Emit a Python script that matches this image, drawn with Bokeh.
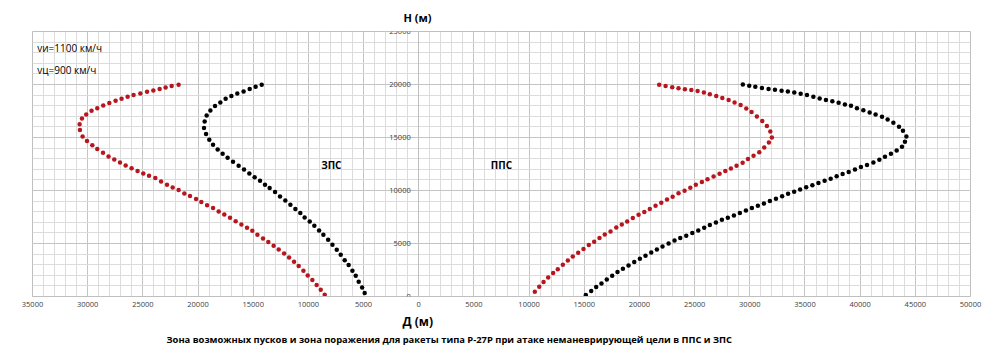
from bokeh.plotting import figure
from bokeh.models import SingleIntervalTicker, CustomJSTickFormatter, Label, Range1d, Title
from bokeh.embed import file_html
from bokeh.resources import INLINE

# ---- data (metres) ----
# ЗПС (rear hemisphere) - plotted to the left, distances stored positive
zps_red_d = [
    8520, 8880, 9250, 9640, 10060, 10450, 10880, 11300, 11750, 12200,
    12690, 13150, 13630, 14110, 14620, 15080, 15560, 16070, 16590, 17100,
    17620, 18130, 18640, 19180, 19700, 20180, 20730, 21240, 21760, 22300,
    22810, 23350, 23870, 24440, 24960, 25480, 26020, 26560, 27070, 27590,
    28110, 28610, 29130, 29580, 30060, 30460, 30700, 30730, 30520, 30130,
    29650, 29130, 28590, 28040, 27470, 26930, 26380, 25840, 25230, 24620,
    24050, 23480, 22940, 22390, 21760]
zps_red_h = [
    160, 630, 1080, 1550, 1980, 2420, 2870, 3270, 3680, 4060,
    4430, 4780, 5130, 5470, 5820, 6200, 6480, 6790, 7110, 7420,
    7740, 8020, 8340, 8620, 8910, 9190, 9470, 9720, 10040, 10280,
    10540, 10850, 11170, 11390, 11600, 11830, 12110, 12360, 12640, 12920,
    13210, 13560, 13910, 14280, 14660, 15090, 15700, 16260, 16790, 17170,
    17520, 17770, 18020, 18250, 18460, 18650, 18840, 19000, 19150, 19310,
    19430, 19570, 19720, 19850, 19970]

zps_black_d = [
    4900, 5130, 5440, 5710, 6010, 6350, 6710, 7070, 7430, 7820,
    8210, 8640, 9030, 9460, 9880, 10340, 10730, 11180, 11630, 12090,
    12570, 13020, 13510, 13930, 14380, 14870, 15350, 15830, 16320, 16830,
    17320, 17770, 18220, 18640, 18980, 19270, 19460, 19400, 19220, 18880,
    18460, 17980, 17500, 16980, 16440, 15870, 15320, 14780, 14230]
zps_black_h = [
    320, 850, 1390, 1950, 2420, 2960, 3430, 3930, 4410, 4880,
    5350, 5820, 6230, 6670, 7080, 7450, 7870, 8250, 8650, 9060,
    9430, 9850, 10230, 10540, 10920, 11260, 11600, 11980, 12330, 12710,
    13080, 13460, 13870, 14310, 14780, 15320, 15890, 16510, 17080, 17550,
    17960, 18300, 18650, 18910, 19150, 19340, 19570, 19780, 19970]

# ППС (front hemisphere) - plotted to the right
pps_red_d = [
    10520, 10920, 11310, 11730, 12180, 12600, 13060, 13510, 13960, 14450,
    14930, 15410, 15900, 16380, 16860, 17380, 17900, 18400, 18890, 19400,
    19920, 20440, 20940, 21460, 21980, 22500, 23010, 23540, 24090, 24610,
    25110, 25660, 26170, 26720, 27260, 27780, 28290, 28800, 29350, 29830,
    30340, 30860, 31310, 31730, 32000, 31860, 31550, 31130, 30640, 30160,
    29680, 29170, 28620, 28080, 27510, 26960, 26380, 25840, 25270, 24700,
    24120, 23540, 22970, 22370, 21790]
pps_red_h = [
    440, 910, 1360, 1790, 2210, 2580, 2990, 3400, 3770, 4120,
    4470, 4850, 5160, 5510, 5850, 6130, 6510, 6790, 7080, 7400,
    7710, 7960, 8250, 8560, 8840, 9160, 9420, 9730, 9970, 10250,
    10540, 10810, 11060, 11330, 11590, 11830, 12080, 12330, 12610, 12960,
    13270, 13620, 14060, 14530, 15000, 15570, 16080, 16550, 16980, 17400,
    17740, 18060, 18300, 18530, 18720, 18910, 19090, 19250, 19380, 19470,
    19550, 19640, 19740, 19850, 19970]

pps_black_d = [
    15140, 15630, 16080, 16560, 17040, 17530, 18010, 18500, 19010, 19530,
    20040, 20550, 21070, 21580, 22090, 22640, 23180, 23700, 24240, 24790,
    25330, 25870, 26380, 26930, 27470, 28010, 28560, 29100, 29650, 30190,
    30730, 31280, 31820, 32370, 32930, 33470, 34020, 34560, 35110, 35670,
    36220, 36780, 37330, 37870, 38410, 38960, 39530, 40070, 40620, 41200,
    41740, 42250, 42790, 43310, 43790, 44060, 44190, 43880, 43520, 43010,
    42490, 41980, 41400, 40860, 40290, 39710, 39170, 38620, 38050, 37480,
    36900, 36330, 35760, 35180, 34610, 34030, 33450, 32880, 32280, 31700,
    31100, 30500, 29950, 29370]
pps_black_h = [
    130, 510, 890, 1230, 1600, 1950, 2300, 2610, 2920, 3250,
    3560, 3840, 4150, 4430, 4720, 5000, 5280, 5510, 5730, 5980,
    6230, 6480, 6740, 6980, 7240, 7430, 7640, 7870, 8110, 8340,
    8560, 8770, 9000, 9220, 9460, 9690, 9890, 10090, 10310, 10490,
    10710, 10920, 11120, 11340, 11560, 11750, 11980, 12210, 12400, 12640,
    12900, 13180, 13460, 13770, 14120, 14590, 15090, 15630, 16010, 16390,
    16700, 16950, 17170, 17360, 17580, 17770, 17990, 18110, 18270, 18430,
    18530, 18680, 18840, 19000, 19120, 19250, 19330, 19410, 19500, 19570,
    19660, 19780, 19880, 20000]

x_ticks_interval = 5000
y_ticks_interval = 5000

title_text = "Зона возможных пусков и зона поражения для ракеты типа Р-27Р при атаке неманеврирующей цели в ППС и ЗПС"
x_title = "Д (м)"
y_title = "Н (м)"
note1 = "vи=1100 км/ч"
note2 = "vц=900 км/ч"

FONT = "Open Sans"
RED = "#b8161e"
BLACK = "#000000"

p = figure(width=984, height=349,
           x_range=Range1d(-35000, 50000), y_range=Range1d(0, 25000),
           output_backend="svg", toolbar_location=None,
           min_border_left=32, min_border_right=14,
           min_border_top=31, min_border_bottom=53)
p.outline_line_color = "#bfbfbf"
p.background_fill_color = "white"

xt = SingleIntervalTicker(interval=x_ticks_interval, num_minor_ticks=5)
yt = SingleIntervalTicker(interval=y_ticks_interval, num_minor_ticks=5)
p.xaxis.ticker = xt
p.yaxis.ticker = yt
p.xgrid.ticker = xt
p.ygrid.ticker = yt
p.grid.grid_line_color = "#c4c4c4"
p.grid.minor_grid_line_color = "#dcdcdc"

p.xaxis.formatter = CustomJSTickFormatter(code="return Math.abs(tick).toString();")
p.yaxis.fixed_location = 0

for ax in (p.xaxis, p.yaxis):
    ax.axis_line_color = "#bfbfbf"
    ax.major_tick_line_color = None
    ax.minor_tick_line_color = None
    ax.major_tick_out = 0
    ax.major_tick_in = 0
    ax.minor_tick_out = 0
    ax.minor_tick_in = 0
    ax.major_label_text_font = FONT
    ax.major_label_text_font_size = "7.5px"
    ax.major_label_text_color = "#404040"
p.xaxis.major_label_standoff = 5
p.yaxis.major_label_standoff = 8

p.scatter([-d for d in zps_red_d], zps_red_h, size=4.5, fill_color=RED, line_color=None)
p.scatter([-d for d in zps_black_d], zps_black_h, size=4.5, fill_color=BLACK, line_color=None)
p.scatter(pps_red_d, pps_red_h, size=4.5, fill_color=RED, line_color=None)
p.scatter(pps_black_d, pps_black_h, size=4.5, fill_color=BLACK, line_color=None)

def lab(x, y, text, size, bold=False, align="left"):
    p.add_layout(Label(x=x, y=y, text=text, text_font=FONT, text_font_size=size,
                       text_font_style="bold" if bold else "normal",
                       text_align=align, text_baseline="middle", text_color="black"))

lab(-34570, 23460, note1, "10px")
lab(-34570, 21390, note2, "10px")
lab(-7920, 12420, "ЗПС", "10px", bold=True, align="center")
lab(7490, 12420, "ППС", "10px", bold=True, align="center")

# axis titles and caption as titles with pixel offsets from frame's left edge
p.add_layout(Title(text=y_title, align="left", offset=371, standoff=14,
                   text_font=FONT, text_font_size="11px", text_font_style="bold",
                   text_color="black"), "above")
p.add_layout(Title(text=x_title, align="left", offset=370, standoff=2,
                   text_font=FONT, text_font_size="12px", text_font_style="bold",
                   text_color="black"), "below")
p.add_layout(Title(text=title_text, align="left", offset=134, standoff=1,
                   text_font=FONT, text_font_size="9.4px", text_font_style="bold",
                   text_color="black"), "below")

open("out.html", "w").write(file_html(p, INLINE))
